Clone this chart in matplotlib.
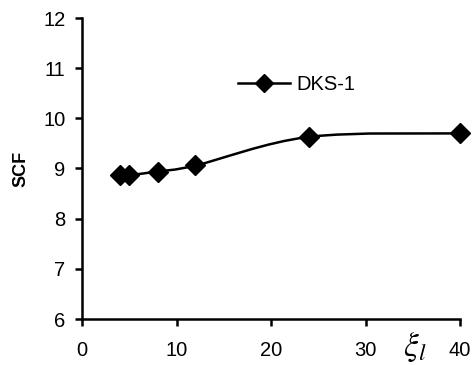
import matplotlib
matplotlib.use("Agg")
import matplotlib.pyplot as plt
from matplotlib.path import Path
from matplotlib.patches import PathPatch
import numpy as np

xi = [4, 5, 8, 12, 24, 40]
scf = [8.87, 8.87, 8.94, 9.06, 9.63, 9.70]
series_label = "DKS-1"
xticks = [0, 10, 20, 30, 40]
yticks = [6, 7, 8, 9, 10, 11, 12]

plt.rcParams['font.family'] = ['Liberation Sans', 'DejaVu Sans']
plt.rcParams['mathtext.fontset'] = 'stix'

fig = plt.figure(figsize=(4.73, 3.65), dpi=100)
ax = fig.add_axes([82/473, 1 - 319/365, (460-82)/473, (319-18)/365])

# smooth (Catmull-Rom style) curve through the data points
pts = np.column_stack([xi, scf])
verts = [tuple(pts[0])]
codes = [Path.MOVETO]
n = len(pts)
for i in range(n - 1):
    p0 = pts[i - 1] if i > 0 else pts[i]
    p1 = pts[i]
    p2 = pts[i + 1]
    p3 = pts[i + 2] if i + 2 < n else pts[i + 1]
    c1 = p1 + (p2 - p0) / 6
    c2 = p2 - (p3 - p1) / 6
    verts += [tuple(c1), tuple(c2), tuple(p2)]
    codes += [Path.CURVE4] * 3
ax.add_patch(PathPatch(Path(verts, codes), facecolor='none', edgecolor='black', lw=1.8, zorder=2))
ax.plot(xi, scf, linestyle='none', marker='D', color='black', markersize=10.5,
        clip_on=False, zorder=3)
ax.plot([], [], '-', marker='D', color='black', lw=1.8, markersize=9, label=series_label)

ax.set_xlim(0, 40)
ax.set_ylim(6, 12)
ax.set_xticks(xticks)
ax.set_yticks(yticks)
ax.spines['top'].set_visible(False)
ax.spines['right'].set_visible(False)
for s in ['left', 'bottom']:
    ax.spines[s].set_linewidth(1.8)
ax.tick_params(direction='out', length=5, width=1.8, labelsize=14.5)
ax.tick_params(axis='x', pad=11)
ax.tick_params(axis='y', pad=7)
ax.set_ylabel('SCF', fontsize=13, fontweight='bold', labelpad=10)
ax.text(415/473, 1 - 347/365, r'$\xi_l$', transform=fig.transFigure, fontsize=24,
        ha='center', va='center')
leg = ax.legend(loc='center left', bbox_to_anchor=(0.365, 0.778), frameon=False,
                fontsize=14.5, handlelength=2.6, handletextpad=0.3)
fig.savefig('out.png', dpi=100)
